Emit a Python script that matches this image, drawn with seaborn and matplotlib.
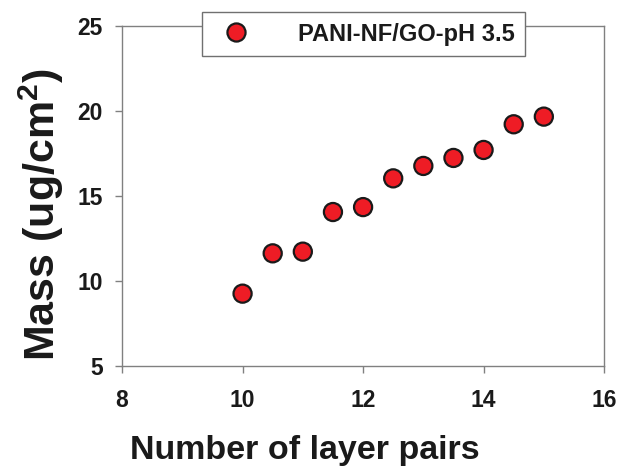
import matplotlib
matplotlib.use("Agg")
import matplotlib.pyplot as plt
import seaborn as sns
import pandas as pd

layer_pairs = [10, 10.5, 11, 11.5, 12, 12.5, 13, 13.5, 14, 14.5, 15]
mass = [9.24, 11.61, 11.71, 14.04, 14.33, 16.02, 16.75, 17.22, 17.69, 19.2, 19.65]
series_label = "PANI-NF/GO-pH 3.5"
x_ticks = [8, 10, 12, 14, 16]
y_ticks = [5, 10, 15, 20, 25]

sns.set_style("white")
plt.rcParams['font.family'] = ['Liberation Sans', 'DejaVu Sans']
plt.rcParams['mathtext.fontset'] = 'custom'
plt.rcParams['mathtext.bf'] = 'Liberation Sans:bold'
plt.rcParams['mathtext.rm'] = 'Liberation Sans'

df = pd.DataFrame({"Layer pairs": layer_pairs, "Mass": mass, "Series": series_label})

fig = plt.figure(figsize=(6.26, 4.75), dpi=100)
ax = fig.add_axes([0.195, 0.230, 0.770, 0.716])

sns.scatterplot(data=df, x="Layer pairs", y="Mass", hue="Series",
                palette=["#ee1c25"], s=170, edgecolor="#1a1a1a",
                linewidth=1.6, ax=ax, zorder=3)

ax.set_xlim(8, 16)
ax.set_ylim(5, 25)
ax.set_xticks(x_ticks)
ax.set_yticks(y_ticks)
ax.set_xticklabels([str(t) for t in x_ticks], fontsize=16.5, fontweight='bold', color='#1a1a1a')
ax.set_yticklabels([str(t) for t in y_ticks], fontsize=16.5, fontweight='bold', color='#1a1a1a')
ax.tick_params(axis='x', direction='out', length=5, width=1, color='#808080',
               bottom=True, top=False, pad=12)
ax.tick_params(axis='y', direction='out', length=5, width=1, color='#808080',
               left=True, right=False, pad=9)

for sp in ax.spines.values():
    sp.set_color('#808080')
    sp.set_linewidth(1.0)
    sp.set_visible(True)

ax.set_xlabel("Number of layer pairs", fontsize=24.5, fontweight='bold', color='#1a1a1a')
ax.xaxis.set_label_coords(0.38, -0.205)
ax.set_ylabel(r"Mass (ug/cm$^\mathbf{2}$)", fontsize=31, fontweight='bold', color='#1a1a1a')
ax.yaxis.set_label_coords(-0.117, 0.445)

leg = ax.legend(loc='center', bbox_to_anchor=(0.581, 0.928), bbox_transform=fig.transFigure,
                fontsize=17, frameon=True, fancybox=False, handletextpad=1.6,
                borderpad=0.45, markerscale=1.0, borderaxespad=0)
for t in leg.get_texts():
    t.set_fontweight('bold')
    t.set_color('#1a1a1a')
leg.get_frame().set_edgecolor('#707070')
leg.get_frame().set_linewidth(1.0)
leg.get_frame().set_facecolor('white')
leg.get_frame().set_alpha(1)
leg.set_zorder(5)

fig.savefig("out.png", dpi=100)
